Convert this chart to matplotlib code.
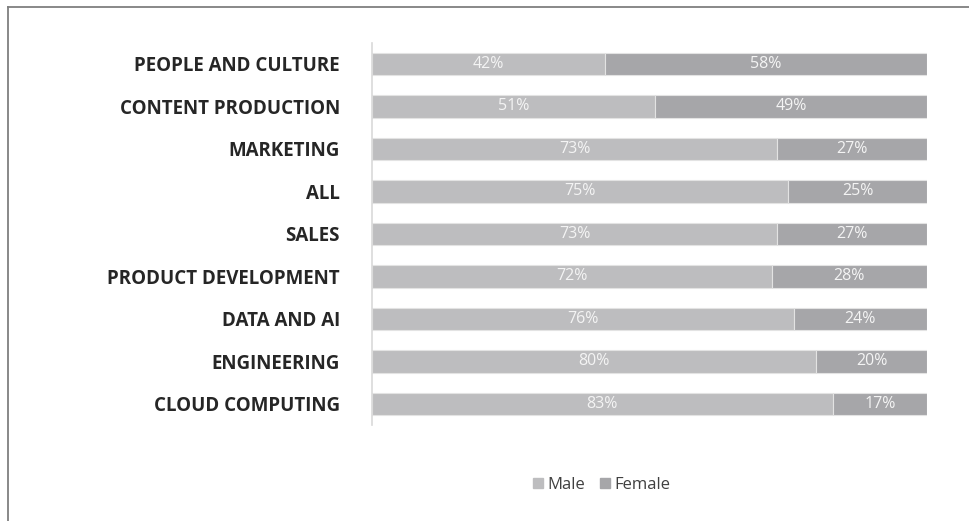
import matplotlib.pyplot as plt
from matplotlib.lines import Line2D

# Gender split by department (percent)
departments = ['PEOPLE AND CULTURE', 'CONTENT PRODUCTION', 'MARKETING', 'ALL', 'SALES',
               'PRODUCT DEVELOPMENT', 'DATA AND AI', 'ENGINEERING', 'CLOUD COMPUTING']
male = [42, 51, 73, 75, 73, 72, 76, 80, 83]
female = [58, 49, 27, 25, 27, 28, 24, 20, 17]

male_color = '#bdbdbf'
female_color = '#a6a6a9'

plt.rcParams['font.family'] = ['Open Sans', 'DejaVu Sans']

fig = plt.figure(figsize=(9.7, 5.21), dpi=100)
ax = fig.add_axes([0.3835, 0.1838, 0.5722, 0.7342])

y = list(range(len(departments)))
ax.barh(y, male, height=0.52, color=male_color, edgecolor='#e3e3e3', linewidth=0.8, label='Male')
ax.barh(y, female, left=male, height=0.52, color=female_color, edgecolor='#e3e3e3', linewidth=0.8,
        label='Female')

# Value labels in the middle of each segment
for i in y:
    ax.text(male[i] / 2, i, f'{male[i]}%', ha='center', va='center', color='#f4f4f4', fontsize=11.5)
    ax.text(male[i] + female[i] / 2, i, f'{female[i]}%', ha='center', va='center',
            color='#f4f4f4', fontsize=11.5)

ax.set_xlim(0, 100)
ax.set_ylim(len(departments) - 0.5, -0.5)
ax.set_xticks([])
ax.set_yticks(y)
ax.set_yticklabels(departments, fontsize=13.5, fontweight='bold', color='#262626')
ax.tick_params(axis='y', length=0, pad=23)
for side in ['top', 'right', 'bottom']:
    ax.spines[side].set_visible(False)
ax.spines['left'].set_color('#d9d9d9')
ax.spines['left'].set_linewidth(1.2)

handles = [Line2D([], [], marker='s', linestyle='none', markersize=7.5, color=male_color),
           Line2D([], [], marker='s', linestyle='none', markersize=7.5, color=female_color)]
fig.legend(handles, ['Male', 'Female'], loc='center', bbox_to_anchor=(601 / 970, 1 - 485 / 521), ncol=2,
           frameon=False, fontsize=12, labelcolor='#404040', handletextpad=0.15, columnspacing=0.8,
           handlelength=0.8)

# Frame lines along top and left
fig.add_artist(Line2D([8 / 970, 1], [1 - 7 / 521, 1 - 7 / 521], transform=fig.transFigure,
                      color='#7f7f7f', linewidth=1.3))
fig.add_artist(Line2D([8 / 970, 8 / 970], [0, 1 - 7 / 521], transform=fig.transFigure,
                      color='#7f7f7f', linewidth=1.3))

fig.savefig('out.png', dpi=100)
